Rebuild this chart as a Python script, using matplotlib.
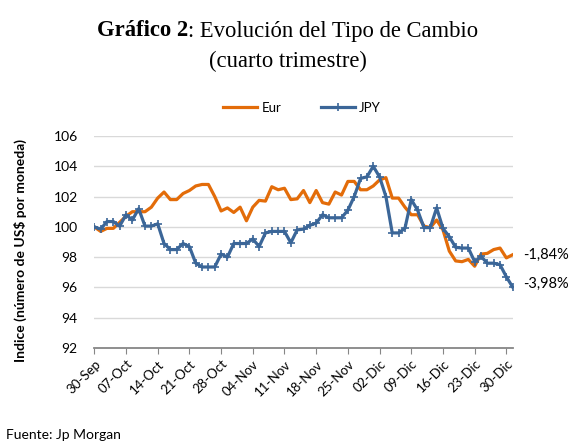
import matplotlib
matplotlib.use("Agg")
import matplotlib.pyplot as plt

plt.rcParams["font.family"] = ["Lato", "DejaVu Sans"]

# Weekly tick labels (every 5 business days)
tick_labels = ["30-Sep", "07-Oct", "14-Oct", "21-Oct", "28-Oct", "04-Nov", "11-Nov",
               "18-Nov", "25-Nov", "02-Dic", "09-Dic", "16-Dic", "23-Dic", "30-Dic"]

# Daily index values, 30-Sep .. 31-Dic (business days)
eur = [100.0, 99.7, 99.9, 99.9, 100.3, 100.7, 101.0, 101.0, 101.0, 101.3,
       101.9, 102.3, 101.8, 101.8, 102.2, 102.4, 102.7, 102.8, 102.8, 102.0,
       101.05, 101.25, 100.95, 101.3, 100.4, 101.3, 101.75, 101.7, 102.65, 102.45,
       102.55, 101.8, 101.85, 102.4, 101.6, 102.4, 101.6, 101.5, 102.3, 102.1,
       103.0, 103.0, 102.45, 102.45, 102.7, 103.1, 103.25, 101.9, 101.9, 101.3,
       100.8, 100.8, 100.05, 99.95, 100.45, 99.8, 98.4, 97.75, 97.7, 97.85,
       97.4, 98.2, 98.25, 98.5, 98.6, 97.95, 98.16]

jpy = [100.0, 99.85, 100.35, 100.35, 100.05, 100.8, 100.45, 101.2, 100.05, 100.05,
       100.2, 98.9, 98.5, 98.5, 98.9, 98.7, 97.6, 97.35, 97.35, 97.35,
       98.2, 98.0, 98.9, 98.9, 98.9, 99.2, 98.7, 99.6, 99.7, 99.7,
       99.7, 98.95, 99.8, 99.85, 100.1, 100.25, 100.8, 100.6, 100.6, 100.6,
       101.1, 102.0, 103.2, 103.3, 104.0, 103.3, 102.0, 99.6, 99.6, 99.9,
       101.8, 101.1, 99.95, 99.95, 101.25, 99.9, 99.35, 98.65, 98.6, 98.6,
       97.7, 98.05, 97.6, 97.6, 97.5, 96.7, 96.02]

end_labels = ["-1,84%", "-3,98%"]

orange = "#E36C09"
blue = "#3B6698"

fig = plt.figure(figsize=(5.77, 4.41), dpi=100)
ax = fig.add_axes([94.3 / 577, 1 - 348 / 441, (512.7 - 94.3) / 577, (348 - 136) / 441])

x = list(range(len(eur)))
ax.plot(x, eur, color=orange, lw=2.3, label="Eur", solid_joinstyle="round", zorder=3)
ax.plot(x, jpy, color=blue, lw=2.3, marker="+", ms=6, mew=1.2, label="JPY",
        solid_joinstyle="round", zorder=4)

ax.set_xlim(0, len(eur) - 1)
ax.set_ylim(92, 106)
ax.set_yticks(range(92, 107, 2))
ax.set_xticks(range(0, 5 * len(tick_labels), 5))
ax.set_xticklabels(tick_labels, rotation=45, ha="right", rotation_mode="anchor", fontsize=9.5)
ax.tick_params(axis="x", direction="out", length=4, color="#868686", pad=3)
ax.tick_params(axis="y", length=0, labelsize=10, pad=12)

for v in range(94, 107, 2):
    ax.axhline(v, color="#D9D9D9", lw=1, zorder=1)

for s in ["top", "right", "left"]:
    ax.spines[s].set_visible(False)
ax.spines["bottom"].set_color("#868686")
ax.spines["bottom"].set_linewidth(1.3)

# End-of-period labels
ax.text(67.7, eur[-1], end_labels[0], fontsize=10.5, va="center", ha="left", clip_on=False)
ax.text(67.7, jpy[-1] + 0.2, end_labels[1], fontsize=10.5, va="center", ha="left", clip_on=False)

# Legend
fig.legend(loc="center", bbox_to_anchor=(302 / 577, 1 - 108 / 441), ncol=2, frameon=False,
           fontsize=9.5, handlelength=2.6, columnspacing=3.0, handletextpad=0.3)

# Title
fig.text(188 / 577, 1 - 31 / 441, "Gráfico 2", family="Liberation Serif", fontsize=16.3,
         fontweight="bold", ha="right", va="center")
fig.text(188 / 577, 1 - 31 / 441, ": Evolución del Tipo de Cambio", family="Liberation Serif",
         fontsize=16.3, ha="left", va="center")
fig.text(288 / 577, 1 - 61 / 441, "(cuarto trimestre)", family="Liberation Serif",
         fontsize=16.3, ha="center", va="center")

fig.text(20 / 577, 1 - 250 / 441, "Indice (número de US$ por moneda)", rotation=90,
         fontsize=10, fontweight="bold", ha="center", va="center")
fig.text(6 / 577, 1 - 435 / 441, "Fuente: Jp Morgan", fontsize=10, ha="left", va="center")

fig.savefig("out.png", dpi=100)
